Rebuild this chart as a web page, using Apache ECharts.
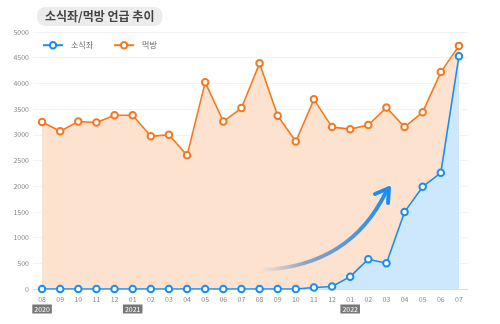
<!DOCTYPE html>
<html><head><meta charset="utf-8">
<script src="https://cdn.jsdelivr.net/npm/echarts@6/dist/echarts.min.js"></script>
<style>html,body{margin:0;padding:0;background:#fff}#c{width:500px;height:324px}</style>
</head><body><div id="c"></div>
<script>
const months = ['08','09','10','11','12','01','02','03','04','05','06','07','08','09','10','11','12','01','02','03','04','05','06','07'];
const years = {0:'2020',5:'2021',17:'2022'};
const soshik = [0,0,0,0,0,0,0,0,0,0,0,0,0,0,0,30,50,240,580,500,1500,1990,2260,4530];
const mukbang = [3250,3070,3260,3240,3380,3380,2970,3000,2600,4020,3260,3520,4390,3370,2870,3690,3150,3110,3190,3530,3150,3440,4220,4730];
const yTicks = [0,500,1000,1500,2000,2500,3000,3500,4000,4500,5000];

const F = '"Noto Sans CJK KR", "Noto Sans", sans-serif';
const chart = echarts.init(document.getElementById('c'));
chart.setOption({
  animation:false,
  textStyle:{fontFamily:F},
  title:{text:'소식좌/먹방 언급 추이', left:37, top:7, backgroundColor:'#ececec', borderRadius:8,
    padding:[3,8,4,8], textStyle:{fontSize:12, fontWeight:600, color:'#444', fontFamily:F}},
  legend:{data:['소식좌','먹방'], left:37, top:36, itemWidth:20, itemHeight:8, itemGap:20,
    textStyle:{fontSize:8, color:'#666', fontFamily:F, padding:[0,0,0,3]}},
  grid:{left:33, right:32, top:32, bottom:35},
  xAxis:{type:'category', data:months, boundaryGap:true,
    axisLine:{lineStyle:{color:'#ddd'}}, axisTick:{show:false},
    axisLabel:{fontSize:7, color:'#888', margin:5, interval:0, lineHeight:10,
      formatter:(v,i)=> years[i] ? v+'\n{y|'+years[i]+'}' : v,
      rich:{y:{backgroundColor:'#777', color:'#fff', fontSize:7, padding:[1,2,1,2], lineHeight:10}}}},
  yAxis:{type:'value', min:0, max:5000, interval:500,
    axisLabel:{fontSize:7, color:'#888', margin:4, formatter:v=> yTicks.includes(v)? String(v):''},
    splitLine:{lineStyle:{color:'#f2f2f2'}}, axisLine:{show:false}, axisTick:{show:false}},
  series:[
    {name:'먹방', type:'line', data:mukbang, symbol:'emptyCircle', symbolSize:6.5,
      itemStyle:{color:'#f5781f', borderWidth:1.5}, lineStyle:{width:1.6, color:'#f5781f'},
      areaStyle:{color:'#fde2cf', opacity:1}, z:2},
    {name:'소식좌', type:'line', data:soshik, symbol:'emptyCircle', symbolSize:6.5,
      itemStyle:{color:'#1a8df0', borderWidth:1.5}, lineStyle:{width:1.6, color:'#1a8df0'},
      areaStyle:{color:'#cde8fd', opacity:1}, z:3}
  ],
  graphic:[
    {type:'bezierCurve', z:10, shape:{x1:262,y1:270,cpx1:350,cpy1:266,x2:386,y2:192},
      style:{fill:null, lineWidth:4, lineCap:'round',
        stroke:new echarts.graphic.LinearGradient(0,0,1,0,[{offset:0,color:'rgba(150,170,190,0)'},{offset:0.35,color:'rgba(110,150,190,0.8)'},{offset:1,color:'#1a8df0'}],false)}},
    {type:'polyline', z:10, shape:{points:[[375,194],[389,188],[388,203]]},
      style:{fill:null, stroke:'#1a8df0', lineWidth:4, lineCap:'round', lineJoin:'round'}}
  ]
});
</script></body></html>
